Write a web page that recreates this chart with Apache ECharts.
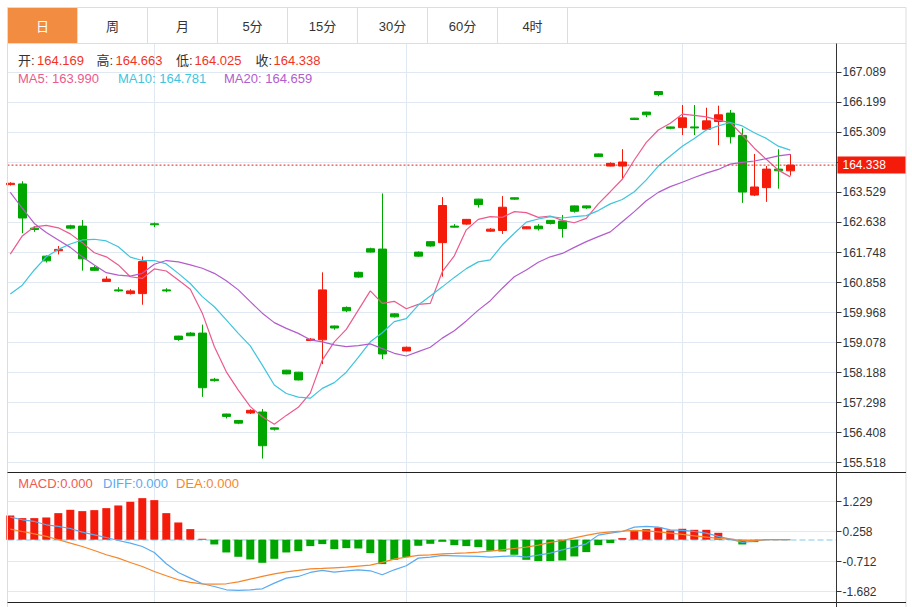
<!DOCTYPE html>
<html><head><meta charset="utf-8">
<script src="https://cdn.jsdelivr.net/npm/echarts@6/dist/echarts.min.js"></script>
<style>html,body{margin:0;padding:0;background:#fff}#c{width:912px;height:607px}</style>
</head><body><div id="c"></div>
<script>
// ---------- data ----------
const tabs = ['日','周','月','5分','15分','30分','60分','4时'];
const opens  = [163.76,163.78,162.47,161.64,161.80,162.54,162.53,161.30,160.89,160.64,160.53,160.53,162.60,160.64,159.27,159.36,159.36,157.99,156.96,156.77,156.99,157.02,156.55,158.26,158.20,159.14,159.16,159.57,160.12,161.16,161.86,161.85,159.93,158.83,161.76,162.07,162.04,162.53,162.59,163.33,162.38,162.40,163.37,162.45,162.53,162.70,162.68,163.13,163.13,164.67,164.31,164.31,165.73,165.91,166.52,165.47,165.45,165.47,165.40,165.63,165.88,165.22,163.45,163.67,164.22,164.169];
const closes = [163.80,162.77,162.43,161.50,161.84,162.47,161.56,161.22,160.96,160.61,160.61,161.48,162.57,160.61,159.17,159.28,157.74,157.95,156.89,156.69,157.07,156.02,156.51,158.15,157.97,159.18,160.64,159.51,160.02,161.02,161.76,158.74,159.84,158.94,161.64,161.94,163.14,162.50,162.73,163.17,162.44,163.09,163.33,162.51,162.45,162.61,162.46,162.97,163.07,164.59,164.39,164.43,165.69,165.83,166.43,165.43,165.74,165.44,165.65,165.83,165.18,163.54,163.69,164.22,164.17,164.338];
const highs  = [163.83,163.86,162.53,161.66,161.94,162.57,162.71,161.35,161.04,160.72,160.66,161.63,162.64,160.69,159.28,159.39,159.61,158.03,156.97,156.78,157.10,157.11,156.56,158.27,158.21,159.21,161.16,159.58,160.15,161.18,161.89,163.50,159.95,158.96,161.78,162.08,163.39,162.59,162.74,163.34,162.47,163.42,163.38,162.52,162.59,162.71,162.86,163.14,163.14,164.68,164.42,164.81,165.74,165.92,166.53,165.48,166.12,166.12,166.04,166.10,165.97,165.43,164.67,164.31,164.81,164.663];
const lows   = [163.73,162.32,162.36,161.45,161.69,162.44,161.21,161.20,160.88,160.58,160.50,160.20,162.50,160.57,159.13,159.27,157.47,157.92,156.83,156.66,156.96,155.64,156.47,158.14,157.96,159.12,158.44,159.46,159.98,161.00,161.75,158.59,159.82,158.82,161.62,161.92,161.03,162.49,162.57,163.08,162.36,162.30,163.31,162.44,162.40,162.58,162.19,162.93,163.04,164.58,164.30,163.92,165.68,165.76,166.38,165.40,165.23,165.23,165.38,164.93,164.98,163.22,163.42,163.25,163.64,164.025];
const ma5  = [161.70,162.24,162.51,162.55,162.48,162.30,162.04,161.74,161.62,161.38,161.03,160.98,161.26,161.20,160.93,160.66,159.95,158.96,158.21,157.67,157.18,156.88,156.66,156.92,157.16,157.58,158.56,159.10,159.47,160.04,160.61,160.24,160.30,160.08,160.21,160.24,161.18,161.65,162.42,162.73,162.81,162.79,162.96,162.93,162.79,162.83,162.70,162.63,162.76,163.19,163.55,163.92,164.49,165.01,165.38,165.58,165.85,165.81,165.77,165.67,165.60,165.23,164.84,164.51,164.19,163.990];
const ma10 = [160.52,160.78,161.23,161.62,161.84,162.00,162.12,162.14,162.09,161.92,161.61,161.51,161.51,161.41,161.13,160.83,160.44,160.14,159.75,159.35,158.98,158.41,157.82,157.57,157.46,157.43,157.72,157.89,158.20,158.64,159.10,159.37,159.70,159.79,160.19,160.46,160.73,161.01,161.27,161.47,161.53,161.97,162.32,162.65,162.74,162.81,162.77,162.81,162.84,162.99,163.19,163.32,163.55,163.90,164.31,164.61,164.90,165.13,165.38,165.50,165.60,165.50,165.30,165.13,164.90,164.781];
const ma20 = [163.53,163.06,162.61,162.34,162.12,161.90,161.62,161.38,161.15,161.08,161.05,161.13,161.40,161.51,161.47,161.38,161.28,161.13,160.91,160.64,160.29,159.95,159.67,159.50,159.35,159.16,159.10,159.01,158.96,158.99,159.04,158.90,158.76,158.68,158.81,158.94,159.21,159.43,159.72,160.04,160.32,160.69,161.03,161.23,161.46,161.62,161.72,161.90,162.07,162.22,162.36,162.66,162.96,163.28,163.53,163.70,163.83,163.97,164.10,164.21,164.37,164.42,164.46,164.53,164.61,164.659];
const macdHist = [0.784,0.698,0.698,0.719,0.859,0.967,0.924,0.956,1.021,1.107,1.226,1.344,1.280,0.859,0.557,0.342,0.030,-0.154,-0.413,-0.553,-0.639,-0.747,-0.618,-0.413,-0.370,-0.208,-0.143,-0.305,-0.273,-0.284,-0.434,-0.790,-0.650,-0.564,-0.197,-0.133,-0.068,-0.176,-0.208,-0.240,-0.359,-0.381,-0.488,-0.650,-0.693,-0.693,-0.672,-0.542,-0.402,-0.176,-0.111,0.051,0.277,0.342,0.396,0.299,0.353,0.320,0.320,0.223,0.030,-0.154,-0.079,0,0,0];
const diff = [0.730,0.644,0.590,0.482,0.428,0.363,0.245,0.158,0.072,-0.025,-0.111,-0.219,-0.413,-0.780,-1.060,-1.243,-1.426,-1.513,-1.620,-1.642,-1.620,-1.588,-1.405,-1.243,-1.189,-1.060,-0.995,-1.049,-1.006,-0.974,-1.006,-1.135,-0.974,-0.844,-0.596,-0.564,-0.510,-0.521,-0.532,-0.542,-0.564,-0.542,-0.521,-0.564,-0.499,-0.434,-0.327,-0.240,-0.133,0.148,0.212,0.266,0.406,0.428,0.406,0.320,0.299,0.266,0.212,0.105,0.018,-0.089,-0.046,0,0,0];
const dea  = [0.342,0.266,0.191,0.105,-0.003,-0.111,-0.219,-0.348,-0.488,-0.596,-0.736,-0.866,-1.027,-1.168,-1.297,-1.383,-1.426,-1.437,-1.426,-1.362,-1.275,-1.189,-1.103,-1.038,-0.995,-0.941,-0.930,-0.909,-0.887,-0.855,-0.823,-0.736,-0.629,-0.564,-0.510,-0.488,-0.456,-0.445,-0.424,-0.402,-0.370,-0.327,-0.284,-0.240,-0.176,-0.089,-0.025,0.061,0.137,0.212,0.256,0.277,0.299,0.288,0.256,0.212,0.169,0.126,0.083,0.040,0.008,-0.025,-0.025,0,0,0];
const priceTicks = [155.518,156.408,157.298,158.188,159.078,159.968,160.858,161.748,162.638,163.529,164.419,165.309,166.199,167.089];
const macdTicks = [-1.682,-0.712,0.258,1.229];
const monthStarts = [12,33,56];

// ---------- styles ----------
const FONT = "'Liberation Sans','Noto Sans CJK SC',sans-serif";
const UP = '#f51b0b', DOWN = '#00a600';
const GRIDC = '#e0e9f1';
const C_MA5 = '#ec5a8c', C_MA10 = '#3ec5dd', C_MA20 = '#b35ccc';
const C_DIFF = '#5aaaf0', C_DEA = '#f5862a', C_MACD = '#f05a50';
const X_MIN = -0.233, X_MAX = 68.85;

const n = closes.length;
const last = n - 1;
const kData = closes.map((c, i) => [i, opens[i], c, lows[i], highs[i]]);
const pts = arr => arr.map((v, i) => [i, v]);
// the price tag covers the tick label that sits under it
const priceLabels = priceTicks.filter(v => Math.abs(v - closes[last]) > 0.3);

const chart = echarts.init(document.getElementById('c'), null, {renderer: 'svg'});

const graphic = [];
graphic.push({type:'rect', z:50, silent:true, shape:{x:7.5,y:7.5,width:898.5,height:640}, style:{fill:'none', stroke:'#dddddd', lineWidth:1}});
tabs.forEach((t, i) => {
  const x = 7.5 + 70 * i;
  if (i === 0) graphic.push({type:'rect', z:51, silent:true, shape:{x:x+0.5,y:8,width:69.5,height:35}, style:{fill:'#f28c40'}});
  graphic.push({type:'line', z:52, silent:true, shape:{x1:x+70,y1:7.5,x2:x+70,y2:43.5}, style:{stroke:'#dddddd', lineWidth:1}});
  graphic.push({type:'text', z:53, silent:true, style:{text:t, x:x+35, y:26, textAlign:'center', textVerticalAlign:'middle', verticalAlign:'middle', font:'13px ' + FONT, fill: i === 0 ? '#ffffff' : '#333333'}});
});
graphic.push({type:'line', z:52, silent:true, shape:{x1:7.5,y1:43.5,x2:906,y2:43.5}, style:{stroke:'#dddddd', lineWidth:1}});
graphic.push({type:'line', z:60, silent:true, shape:{x1:7.5,y1:472.5,x2:906,y2:472.5}, style:{stroke:'#222222', lineWidth:1}});
graphic.push({type:'line', z:60, silent:true, shape:{x1:7.5,y1:602.5,x2:906,y2:602.5}, style:{stroke:'#222222', lineWidth:1}});
graphic.push({type:'line', z:60, silent:true, shape:{x1:836.5,y1:43.5,x2:836.5,y2:607}, style:{stroke:'#333333', lineWidth:1}});

function txt(s, x, y, color) {
  graphic.push({type:'text', z:70, silent:true, style:{text:s, x:x, y:y, textAlign:'left', textVerticalAlign:'middle', verticalAlign:'middle', font:'13px ' + FONT, fill:color}});
}
const ohlcLabels = [['开:', opens[last], 18, 37], ['高:', highs[last], 96.5, 115.5], ['低:', lows[last], 176, 194.5], ['收:', closes[last], 255.5, 273.5]];
ohlcLabels.forEach(o => { txt(o[0], o[2], 60, '#333333'); txt(o[1].toFixed(3), o[3], 60, '#f2331f'); });
txt('MA5: ' + ma5[last].toFixed(3), 18, 78.3, C_MA5);
txt('MA10: ' + ma10[last].toFixed(3), 118, 78.3, C_MA10);
txt('MA20: ' + ma20[last].toFixed(3), 224, 78.3, C_MA20);
txt('MACD:' + macdHist[last].toFixed(3), 18.3, 483.3, C_MACD);
txt('DIFF:' + diff[last].toFixed(3), 103, 483.3, C_DIFF);
txt('DEA:' + dea[last].toFixed(3), 176, 483.3, C_DEA);

const xAxisBase = {
  type:'value', min:X_MIN, max:X_MAX,
  axisLine:{show:false, onZero:false}, axisLabel:{show:false},
  axisTick:{show:false, customValues: monthStarts},
  splitLine:{show:true, lineStyle:{color:GRIDC, width:1}}
};
const yLabel = {color:'#333333', fontSize:12, fontFamily:FONT, margin:6, formatter: v => v.toFixed(3)};

const option = {
  animation:false,
  backgroundColor:'#ffffff',
  graphic: graphic,
  grid:[
    {left:7.5, top:43.5, width:829, height:428.8},
    {left:7.5, top:472.3, width:829, height:130}
  ],
  xAxis:[
    Object.assign({gridIndex:0}, xAxisBase),
    Object.assign({gridIndex:1}, xAxisBase)
  ],
  yAxis:[
    {gridIndex:0, type:'value', position:'right', min:155.233, max:167.943,
     axisLine:{show:false, onZero:false},
     axisTick:{show:true, inside:false, length:5, lineStyle:{color:'#333333'}, customValues: priceTicks},
     axisLabel:Object.assign({customValues: priceLabels}, yLabel),
     splitLine:{show:true, lineStyle:{color:GRIDC, width:1}}},
    {gridIndex:1, type:'value', position:'right', min:-2.025, max:2.180,
     axisLine:{show:false, onZero:false},
     axisTick:{show:true, inside:false, length:5, lineStyle:{color:'#333333'}, customValues: macdTicks},
     axisLabel:Object.assign({customValues: macdTicks}, yLabel),
     splitLine:{show:true, lineStyle:{color:GRIDC, width:1}}}
  ],
  series:[
    {type:'candlestick', xAxisIndex:0, yAxisIndex:0, data:kData, barWidth:8, z:3,
     itemStyle:{color:UP, color0:DOWN, borderColor:UP, borderColor0:DOWN, borderWidth:1}},
    {type:'line', xAxisIndex:0, yAxisIndex:0, data:pts(ma5), showSymbol:false, symbol:'none', lineStyle:{color:C_MA5, width:1.2}, z:4},
    {type:'line', xAxisIndex:0, yAxisIndex:0, data:pts(ma10), showSymbol:false, symbol:'none', lineStyle:{color:C_MA10, width:1.2}, z:4},
    {type:'line', xAxisIndex:0, yAxisIndex:0, data:pts(ma20), showSymbol:false, symbol:'none', lineStyle:{color:C_MA20, width:1.2}, z:4},
    // last price line with its tag on the axis
    {type:'line', xAxisIndex:0, yAxisIndex:0, data:[[X_MIN, closes[last]], [X_MAX, closes[last]]],
     showSymbol:false, symbol:'none', silent:true, z:6, clip:false,
     lineStyle:{color:UP, type:[2,2], width:1},
     endLabel:{show:true, distance:1, formatter:() => closes[last].toFixed(3),
              backgroundColor:UP, color:'#ffffff', fontSize:12, fontFamily:FONT, lineHeight:13,
              padding:[2,20,2,5]}},
    {type:'bar', xAxisIndex:1, yAxisIndex:1, data:pts(macdHist), barWidth:8, z:3,
     itemStyle:{color: p => p.value[1] >= 0 ? UP : DOWN},
     markLine:{silent:true, symbol:['none','none'], z:2,
       lineStyle:{color:'#a9dcf2', type:'dashed', width:1.5}, label:{show:false},
       data:[{yAxis:0}]}},
    {type:'line', xAxisIndex:1, yAxisIndex:1, data:pts(diff), showSymbol:false, symbol:'none', lineStyle:{color:C_DIFF, width:1.2}, z:4},
    {type:'line', xAxisIndex:1, yAxisIndex:1, data:pts(dea), showSymbol:false, symbol:'none', lineStyle:{color:C_DEA, width:1.2}, z:4}
  ]
};
chart.setOption(option);
</script>
</body></html>
